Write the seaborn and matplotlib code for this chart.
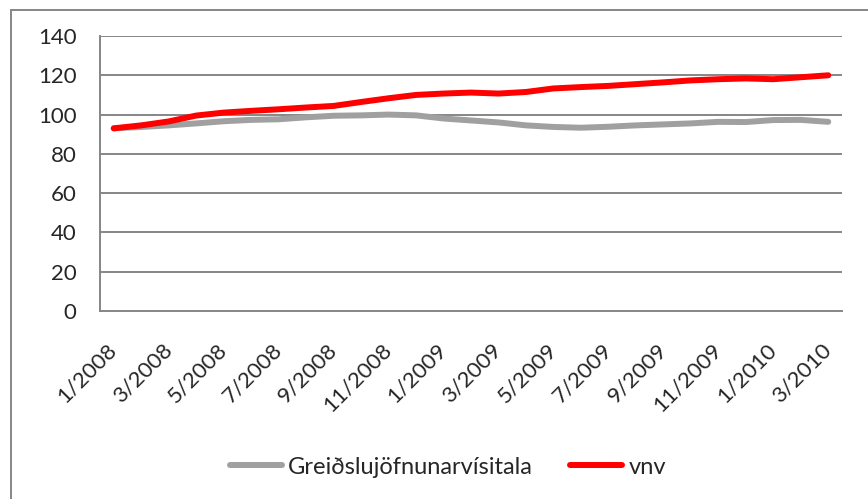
import matplotlib
matplotlib.use('Agg')
import matplotlib.pyplot as plt
import matplotlib.patches as mpatches
import numpy as np
import pandas as pd
import seaborn as sns

# Mánuðir 1/2008 - 3/2010
manudir = [f"{m}/{y}" for y in (2008, 2009, 2010) for m in range(1, 13)][:27]

greidslu = [93.0, 93.7, 94.5, 95.5, 96.6, 97.3, 97.6, 98.6, 99.4, 99.6, 100.0,
            99.6, 98.0, 97.0, 96.0, 94.5, 93.7, 93.3, 93.8, 94.5, 95.0, 95.5,
            96.3, 96.2, 97.2, 97.3, 96.3]
vnv = [93.0, 94.5, 96.5, 99.5, 101.0, 101.9, 102.7, 103.6, 104.4, 106.4, 108.3,
       110.0, 110.7, 111.2, 110.7, 111.5, 113.3, 114.0, 114.6, 115.5, 116.4,
       117.4, 118.0, 118.4, 118.0, 119.0, 120.0]

reidir = ['Greiðslujöfnunarvísitala', 'vnv']
litir = ['#A0A0A0', '#FF0000']
y_ticks = [0, 20, 40, 60, 80, 100, 120, 140]

df = pd.DataFrame({
    'x': list(range(len(manudir))) * 2,
    'gildi': greidslu + vnv,
    'röð': [reidir[0]] * len(greidslu) + [reidir[1]] * len(vnv),
})

sns.set_style('white')
plt.rcParams['font.family'] = ['Lato', 'DejaVu Sans']

fig = plt.figure(figsize=(8.68, 4.99), dpi=100)
ax = fig.add_axes([100 / 868, (499 - 311) / 499, 742 / 868, 275 / 499])

sns.lineplot(data=df, x='x', y='gildi', hue='röð', palette=litir,
             linewidth=4.3, ax=ax, legend=False, solid_capstyle='round')

grar = '#868686'
ax.set_xlim(-0.5, len(manudir) - 0.5)
ax.set_ylim(0, 140)
ax.set_yticks(y_ticks)
ax.set_yticklabels([str(v) for v in y_ticks], fontsize=16)
for v in y_ticks[1:]:
    ax.axhline(v, color=grar, linewidth=1.4, zorder=0)

# merkingar á öðrum hverjum mánuði, strik á milli flokka
major = list(range(0, len(manudir), 2))
ax.set_xticks(major)
ax.set_xticklabels([manudir[i] for i in major], rotation=45, ha='right',
                   va='center', rotation_mode='anchor', fontsize=16)
ax.set_xticks([i - 0.5 for i in major], minor=True)
ax.tick_params(axis='x', which='major', length=0, pad=26)
ax.tick_params(axis='x', which='minor', length=6, width=1.4, color=grar, direction='out')
ax.tick_params(axis='y', length=6, width=1.4, color=grar, direction='out', pad=11)
ax.set_xlabel('')
ax.set_ylabel('')
for s in ['top', 'right']:
    ax.spines[s].set_visible(False)
for s in ['left', 'bottom']:
    ax.spines[s].set_color(grar)
    ax.spines[s].set_linewidth(1.4)

handles = [plt.Line2D([], [], color=c, linewidth=4.3) for c in litir]
fig.legend(handles, reidir, loc='center', ncol=2, frameon=False,
           bbox_to_anchor=(0.516, 1 - 467 / 499), fontsize=17,
           handlelength=2.2, handletextpad=0.25, columnspacing=1.6)

# rammi utan um myndina
fig.patches.append(mpatches.Rectangle((11 / 868, -0.01), 1.0, (499 - 10) / 499 + 0.01,
                                      transform=fig.transFigure, fill=False,
                                      edgecolor=grar, linewidth=1.4))

fig.savefig('out.png', dpi=100)
